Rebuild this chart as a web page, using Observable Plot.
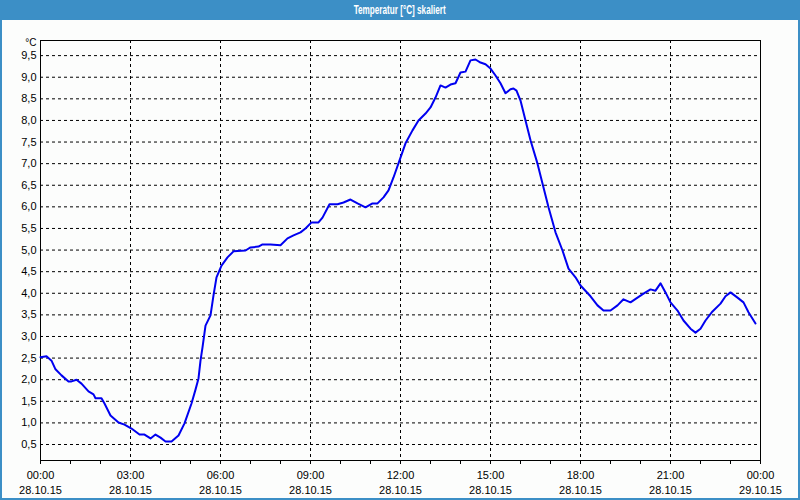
<!DOCTYPE html>
<html>
<head>
<meta charset="utf-8">
<script src="https://cdn.jsdelivr.net/npm/d3@7"></script>
<script src="https://cdn.jsdelivr.net/npm/@observablehq/plot@0.6"></script>
<style>
  html, body { margin: 0; padding: 0; background: #fcfdfc; }
  #wrap { position: relative; width: 800px; height: 500px; overflow: hidden; background: #fcfdfc; font-family: "Liberation Sans", Arial, sans-serif; }
  #title { height: 20px; background: #3c8fc6; color: #fff; font-weight: bold; font-size: 12px; line-height: 20px; text-align: center; }
  #title span { display: inline-block; transform: scaleX(0.68); transform-origin: center; }
  #border { position: absolute; left: 0; top: 0; width: 800px; height: 500px; box-sizing: border-box; border: 2px solid #3c8fc6; border-top: none; pointer-events: none; }
  svg { display: block; }
</style>
</head>
<body>
<div id="wrap">
  <div id="title"><span>Temperatur [°C] skaliert</span></div>
  <div id="chart"></div>
  <div id="border"></div>
</div>
<script>
// Minutes since 28.10.15 00:00
const minutes = [0, 12, 22, 30, 42, 56, 62, 72, 82, 96, 106, 110, 122, 128, 140, 156, 168, 182, 198, 208, 220, 230, 240, 250, 262, 276, 288, 302, 310, 316, 320, 324, 330, 340, 346, 352, 362, 374, 386, 410, 420, 436, 444, 460, 480, 494, 506, 520, 530, 542, 556, 564, 578, 594, 606, 620, 634, 650, 664, 674, 686, 696, 706, 720, 730, 744, 756, 770, 780, 790, 800, 810, 820, 830, 840, 850, 860, 870, 880, 890, 900, 910, 920, 930, 940, 946, 952, 960, 970, 980, 994, 1006, 1016, 1030, 1044, 1056, 1070, 1080, 1100, 1114, 1126, 1140, 1154, 1166, 1180, 1194, 1206, 1220, 1230, 1240, 1250, 1260, 1274, 1286, 1300, 1310, 1320, 1330, 1344, 1360, 1370, 1380, 1394, 1406, 1416, 1430];
// Temperature [°C]
const temps = [2.52, 2.54, 2.44, 2.24, 2.10, 1.96, 1.96, 2.00, 1.91, 1.73, 1.66, 1.57, 1.57, 1.45, 1.17, 1.01, 0.96, 0.87, 0.73, 0.73, 0.64, 0.73, 0.66, 0.57, 0.57, 0.71, 0.99, 1.45, 1.77, 2.03, 2.44, 2.75, 3.25, 3.49, 3.95, 4.37, 4.64, 4.83, 4.97, 4.99, 5.06, 5.08, 5.13, 5.13, 5.11, 5.27, 5.34, 5.41, 5.50, 5.64, 5.64, 5.75, 6.06, 6.06, 6.10, 6.17, 6.08, 5.99, 6.08, 6.08, 6.22, 6.38, 6.68, 7.14, 7.47, 7.77, 8.00, 8.16, 8.30, 8.53, 8.81, 8.76, 8.83, 8.86, 9.11, 9.13, 9.39, 9.41, 9.34, 9.30, 9.20, 9.04, 8.86, 8.63, 8.72, 8.74, 8.69, 8.46, 8.00, 7.54, 7.00, 6.45, 5.99, 5.41, 4.99, 4.57, 4.37, 4.18, 3.93, 3.72, 3.60, 3.60, 3.72, 3.86, 3.79, 3.90, 3.99, 4.09, 4.06, 4.23, 4.02, 3.79, 3.60, 3.37, 3.18, 3.09, 3.18, 3.37, 3.58, 3.76, 3.93, 4.02, 3.90, 3.79, 3.56, 3.30];

const xTickMinutes = [0, 180, 360, 540, 720, 900, 1080, 1260, 1440];
const xTimeLabels = ["00:00", "03:00", "06:00", "09:00", "12:00", "15:00", "18:00", "21:00", "00:00"];
const xDateLabels = ["28.10.15", "28.10.15", "28.10.15", "28.10.15", "28.10.15", "28.10.15", "28.10.15", "28.10.15", "29.10.15"];
const xMinorMinutes = [0, 60, 120, 180, 240, 300, 360, 420, 480, 540, 600, 660, 720, 780, 840, 900, 960, 1020, 1080, 1140, 1200, 1260, 1320, 1380, 1440];
const yTicks = [0.5, 1.0, 1.5, 2.0, 2.5, 3.0, 3.5, 4.0, 4.5, 5.0, 5.5, 6.0, 6.5, 7.0, 7.5, 8.0, 8.5, 9.0, 9.5];
const yUnit = "°C";

const data = minutes.map((m, i) => ({m, t: temps[i]}));
const xLabels = xTickMinutes.map((m, i) => ({m, time: xTimeLabels[i], date: xDateLabels[i]}));

const chart = Plot.plot({
  width: 800,
  height: 480,
  marginTop: 20,
  marginBottom: 40,
  marginLeft: 40,
  marginRight: 40,
  style: {background: "#fcfdfc", fontFamily: "'Liberation Sans', Arial, sans-serif", fontSize: "11px", color: "#000"},
  x: {domain: [0, 1440], axis: null},
  y: {domain: [0.13, 9.85], axis: null},
  marks: [
    Plot.gridY(yTicks, {stroke: "#000", strokeOpacity: 1, strokeDasharray: "3,3"}),
    Plot.gridX(xTickMinutes.slice(1, -1), {stroke: "#000", strokeOpacity: 1, strokeDasharray: "3,3"}),
    Plot.frame({stroke: "#000", strokeWidth: 1}),
    Plot.axisX({ticks: xMinorMinutes, tickSize: 4, tickFormat: () => "", stroke: "#000", label: null}),
    Plot.axisY({ticks: yTicks, tickSize: 0, tickPadding: 4, tickFormat: d => d.toFixed(1).replace(".", ","), fill: "#000", fontSize: 11, label: null}),
    Plot.text(xLabels, {x: "m", frameAnchor: "bottom", text: "time", lineAnchor: "top", dy: 11, fill: "#000", fontSize: 11}),
    Plot.text(xLabels, {x: "m", frameAnchor: "bottom", text: "date", lineAnchor: "top", dy: 26, fill: "#000", fontSize: 11}),
    Plot.text([yUnit], {frameAnchor: "top-left", text: d => d, textAnchor: "end", lineAnchor: "middle", dx: -4, dy: 2, fill: "#000", fontSize: 10}),
    Plot.line(data, {x: "m", y: "t", stroke: "#0000f0", strokeWidth: 2})
  ]
});
document.getElementById("chart").appendChild(chart);
</script>
</body>
</html>
